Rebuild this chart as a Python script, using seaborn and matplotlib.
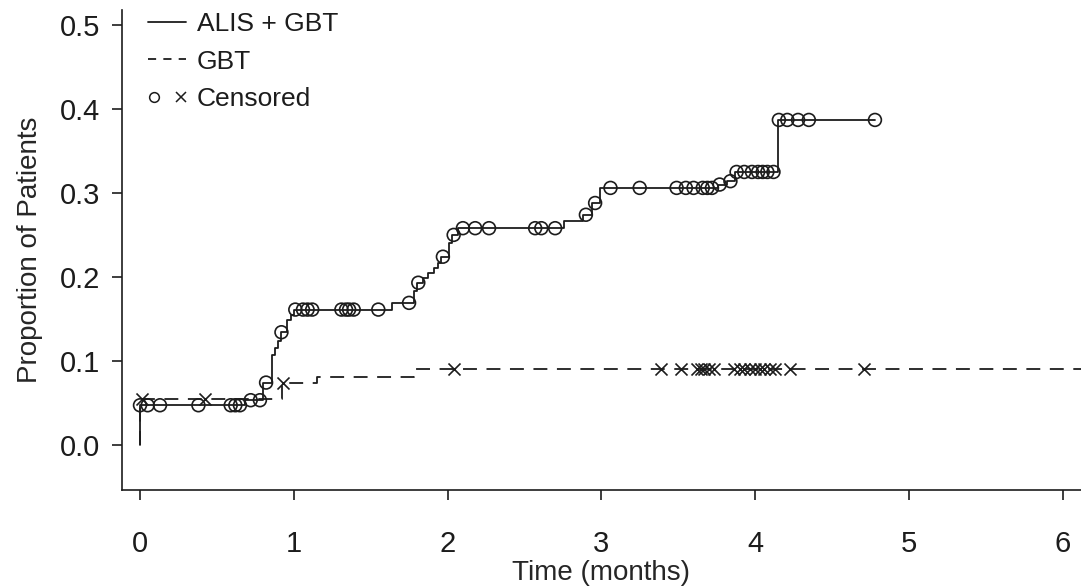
import numpy as np
import pandas as pd
import matplotlib
matplotlib.use("Agg")
import matplotlib.pyplot as plt
import seaborn as sns
from matplotlib.lines import Line2D
from matplotlib.legend_handler import HandlerTuple

# ALIS + GBT: cumulative proportion (step times in months and level after each step)
alis_step_times = [0.0, 0.68, 0.80, 0.86, 0.88, 0.90, 0.915, 0.955, 0.98, 1.00,
                   1.64, 1.78, 1.80, 1.84, 1.87, 1.91, 1.94, 1.96, 2.01, 2.03,
                   2.07, 2.76, 2.88, 2.94, 2.99, 3.76, 3.82, 3.87, 4.15]
alis_step_levels = [0.047, 0.053, 0.074, 0.107, 0.115, 0.124, 0.134, 0.149, 0.155, 0.161,
                    0.169, 0.183, 0.193, 0.199, 0.205, 0.211, 0.217, 0.224, 0.240, 0.250,
                    0.258, 0.266, 0.274, 0.288, 0.306, 0.310, 0.314, 0.325, 0.387]
alis_last_time = 4.78
alis_censored = [0.0, 0.05, 0.13, 0.38, 0.59, 0.62, 0.65, 0.72, 0.78, 0.82, 0.92,
                 1.01, 1.06, 1.09, 1.12, 1.31, 1.34, 1.36, 1.39, 1.55, 1.75, 1.81,
                 1.97, 2.04, 2.10, 2.18, 2.27, 2.57, 2.61, 2.70, 2.90, 2.96, 3.06,
                 3.25, 3.49, 3.55, 3.60, 3.66, 3.69, 3.72, 3.77, 3.84, 3.88, 3.93,
                 3.98, 4.02, 4.05, 4.08, 4.12, 4.155, 4.21, 4.28, 4.35, 4.78]

# GBT alone
gbt_step_times = [0.0, 0.925, 1.15, 1.78]
gbt_step_levels = [0.054, 0.073, 0.081, 0.090]
gbt_last_time = 6.3
gbt_censored = [0.01, 0.42, 0.93, 2.04, 3.39, 3.52, 3.62, 3.65, 3.67, 3.70, 3.73,
                3.86, 3.90, 3.93, 3.97, 4.00, 4.03, 4.06, 4.10, 4.13, 4.23, 4.71]

legend_labels = ["ALIS + GBT", "GBT", "Censored"]
x_ticks = [0, 1, 2, 3, 4, 5, 6]
y_ticks = [0.0, 0.1, 0.2, 0.3, 0.4, 0.5]


def step_frame(times, levels, last_time):
    t = [0.0] + list(times) + [last_time]
    y = [0.0] + list(levels) + [levels[-1]]
    return pd.DataFrame({"t": t, "y": y})


def censor_frame(times, step_times, levels):
    idx = np.searchsorted(step_times, times, side="right") - 1
    return pd.DataFrame({"t": times, "y": np.asarray(levels)[idx]})


ink = "#1c1c1c"
sns.set_theme(style="ticks")
plt.rcParams["font.family"] = ["Liberation Sans", "DejaVu Sans"]
plt.rcParams["axes.edgecolor"] = ink
plt.rcParams["axes.linewidth"] = 1.2
plt.rcParams["xtick.color"] = ink
plt.rcParams["ytick.color"] = ink
plt.rcParams["text.color"] = ink

fig = plt.figure(figsize=(10.81, 5.88), dpi=100)
ax = fig.add_axes([122 / 1081, 1 - 490 / 588, 1 - 122 / 1081, (490 - 10) / 588])

alis_df = step_frame(alis_step_times, alis_step_levels, alis_last_time)
gbt_df = step_frame(gbt_step_times, gbt_step_levels, gbt_last_time)

sns.lineplot(data=gbt_df, x="t", y="y", drawstyle="steps-post", estimator=None,
             sort=False, color=ink, linewidth=1.3, linestyle=(0, (7.7, 5.3)), ax=ax)
sns.lineplot(data=alis_df, x="t", y="y", drawstyle="steps-post", estimator=None,
             sort=False, color=ink, linewidth=1.3, ax=ax)

alis_c = censor_frame(alis_censored, alis_step_times, alis_step_levels)
gbt_c = censor_frame(gbt_censored, gbt_step_times, gbt_step_levels)

sns.scatterplot(data=alis_c, x="t", y="y", marker="o", s=85, facecolor="none",
                edgecolor=ink, linewidth=1.2, ax=ax, zorder=3)
sns.scatterplot(data=gbt_c, x="t", y="y", marker="x", s=75, color=ink,
                edgecolor=None, linewidth=1.2, ax=ax, zorder=3)

ax.set_xlim(-0.117, 6.12)
ax.set_ylim(-0.054, 0.518)
ax.set_xticks(x_ticks)
ax.set_xticklabels([str(v) for v in x_ticks])
ax.set_yticks(y_ticks)
ax.set_yticklabels([f"{v:.1f}" for v in y_ticks])
ax.tick_params(axis="both", labelsize=21, length=7, width=1.2)
ax.tick_params(axis="x", pad=22)
ax.tick_params(axis="y", pad=9)
ax.set_xlabel("Time (months)", fontsize=20, labelpad=1)
ax.set_ylabel("Proportion of Patients", fontsize=20, labelpad=12)
sns.despine(ax=ax)

h_alis = Line2D([], [], color=ink, linewidth=1.3)
h_gbt = Line2D([], [], color=ink, linewidth=1.3, linestyle=(0, (4.5, 4.0)))
h_cens = (Line2D([], [], linestyle="none", marker="o", markersize=7,
                 markerfacecolor="none", markeredgecolor=ink, markeredgewidth=1.1),
          Line2D([], [], linestyle="none", marker="x", markersize=7,
                 color=ink, markeredgewidth=1.1))
ax.legend([h_alis, h_gbt, h_cens], legend_labels,
          handler_map={tuple: HandlerTuple(ndivide=None, pad=0.6)},
          loc="upper left", bbox_to_anchor=(0.027, 0.995), frameon=False,
          fontsize=19, handlelength=1.45, handletextpad=0.4,
          labelspacing=0.5, borderpad=0, borderaxespad=0)

fig.savefig("out.png", dpi=100)
